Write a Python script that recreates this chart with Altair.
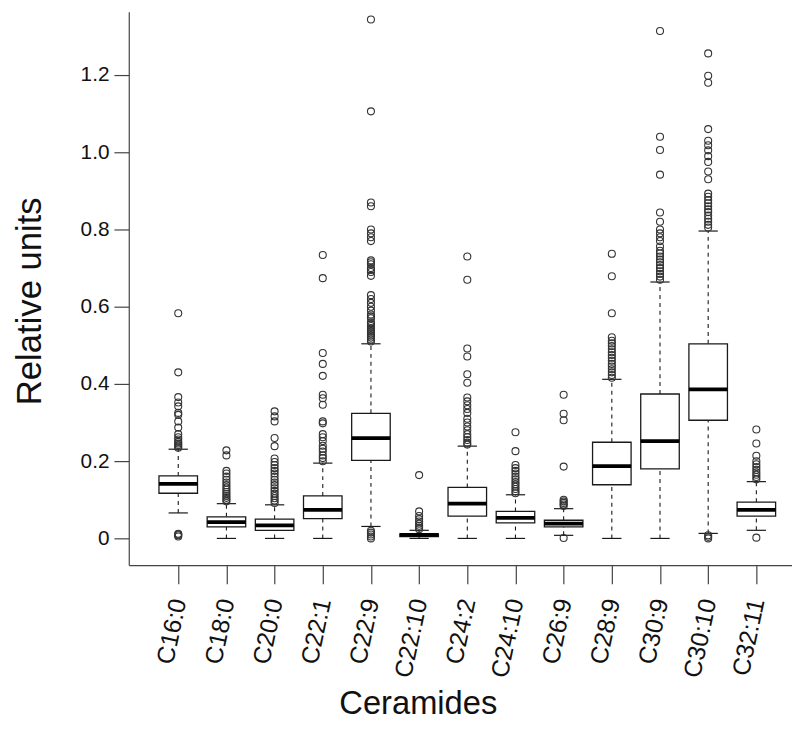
import json
import altair as alt
import pandas as pd

# ---- data ----
categories = ["C16:0", "C18:0", "C20:0", "C22:1", "C22:9", "C22:10", "C24:2",
              "C24:10", "C26:9", "C28:9", "C30:9", "C30:10", "C32:11"]
q1 = [0.117, 0.030, 0.021, 0.051, 0.202, 0.005, 0.058, 0.040, 0.030, 0.139, 0.180, 0.306, 0.058]
median = [0.141, 0.042, 0.034, 0.074, 0.260, 0.009, 0.090, 0.053, 0.038, 0.187, 0.252, 0.386, 0.074]
q3 = [0.162, 0.056, 0.050, 0.110, 0.324, 0.012, 0.132, 0.070, 0.047, 0.249, 0.374, 0.504, 0.094]
whisker_low = [0.066, 0.0, 0.0, 0.0, 0.031, 0.0, 0.0, 0.0, 0.008, 0.0, 0.0, 0.013, 0.021]
whisker_high = [0.231, 0.090, 0.087, 0.195, 0.504, 0.021, 0.239, 0.113, 0.077, 0.412, 0.664, 0.796, 0.147]

out_c16_0 = [0.583, 0.430, 0.366, 0.352, 0.342, 0.325, 0.320, 0.303, 0.287, 0.270,
             0.262, 0.256, 0.250, 0.246, 0.242, 0.238, 0.235, 0.005, 0.008, 0.010, 0.012]
out_c18_0 = [0.228, 0.215, 0.175, 0.168, 0.160, 0.152, 0.145, 0.138, 0.132, 0.126,
             0.120, 0.115, 0.110, 0.105, 0.100, 0.096]
out_c20_0 = [0.329, 0.316, 0.303, 0.260, 0.239, 0.207, 0.198, 0.190, 0.182, 0.175,
             0.168, 0.160, 0.152, 0.145, 0.138, 0.130, 0.123, 0.116, 0.110, 0.104, 0.098, 0.092]
out_c22_1 = [0.734, 0.674, 0.480, 0.452, 0.421, 0.372, 0.363, 0.346, 0.303, 0.298,
             0.270, 0.262, 0.252, 0.240, 0.232, 0.225, 0.215, 0.208, 0.200]
out_c22_9 = [1.344, 1.106, 0.870, 0.860, 0.800, 0.790, 0.780, 0.770, 0.720, 0.715,
             0.710, 0.700, 0.695, 0.690, 0.680, 0.630, 0.620, 0.610, 0.600, 0.590,
             0.580, 0.575, 0.570, 0.560, 0.555, 0.550, 0.545, 0.540, 0.535, 0.530,
             0.525, 0.520, 0.515, 0.510, 0.000, 0.005, 0.010, 0.015, 0.020]
out_c22_10 = [0.164, 0.070, 0.058, 0.050, 0.044, 0.038, 0.033, 0.028, 0.024]
out_c24_2 = [0.730, 0.670, 0.492, 0.471, 0.425, 0.403, 0.365, 0.355, 0.345, 0.335,
             0.325, 0.310, 0.300, 0.290, 0.280, 0.270, 0.262, 0.255, 0.248, 0.243]
out_c24_10 = [0.275, 0.226, 0.190, 0.182, 0.175, 0.168, 0.160, 0.153, 0.146, 0.140,
              0.134, 0.128, 0.122, 0.117]
out_c26_9 = [0.372, 0.323, 0.306, 0.186, 0.100, 0.096, 0.092, 0.088, 0.084, 0.001]
out_c28_9 = [0.737, 0.679, 0.583, 0.521, 0.512, 0.505, 0.498, 0.490, 0.482, 0.475,
             0.468, 0.460, 0.452, 0.445, 0.438, 0.430, 0.423, 0.416]
out_c30_9 = [1.314, 1.040, 1.006, 0.942, 0.844, 0.820, 0.800, 0.790, 0.780, 0.770,
             0.756, 0.745, 0.738, 0.730, 0.722, 0.715, 0.708, 0.700, 0.692, 0.685,
             0.678, 0.670]
out_c30_10 = [1.256, 1.198, 1.180, 1.060, 1.030, 1.018, 1.005, 0.990, 0.975, 0.950,
              0.930, 0.893, 0.885, 0.876, 0.868, 0.860, 0.852, 0.845, 0.836, 0.828,
              0.820, 0.812, 0.805, 0.000, 0.004, 0.008]
out_c32_11 = [0.282, 0.246, 0.214, 0.200, 0.192, 0.185, 0.178, 0.171, 0.165, 0.159,
              0.153, 0.002]

outliers = [out_c16_0, out_c18_0, out_c20_0, out_c22_1, out_c22_9, out_c22_10, out_c24_2,
            out_c24_10, out_c26_9, out_c28_9, out_c30_9, out_c30_10, out_c32_11]

y_ticks = [0, 0.2, 0.4, 0.6, 0.8, 1.0, 1.2]

# ---- tables ----
idx = list(range(1, len(categories) + 1))
box_df = pd.DataFrame({"cat": categories, "idx": idx, "q1": q1, "med": median,
                       "q3": q3, "lo": whisker_low, "hi": whisker_high})
out_df = pd.DataFrame([{"cat": c, "idx": i, "v": v}
                       for c, i, vals in zip(categories, idx, outliers) for v in vals])

INK = "#1a1a1a"
AXIS_INK = "#444444"
FONT = "Liberation Sans"

xscale = alt.Scale(domain=[-0.027, 13.74], nice=False, zero=False)
yscale = alt.Scale(domain=[-0.069, 1.364], nice=False, zero=False)

x_axis = alt.Axis(
    values=idx,
    labelExpr=f"{json.dumps(categories)}[datum.value - 1]",
    labelAngle=-78, labelAlign="right", labelBaseline="middle",
    labelFontSize=25, labelFont=FONT, labelColor="#111111", labelPadding=15,
    labelOverlap=False, labelFlush=False,
    tickSize=19, tickColor=AXIS_INK, tickWidth=1.2,
    domainColor=AXIS_INK, domainWidth=1.2, grid=False,
    title="Ceramides", titleFont=FONT, titleFontSize=33, titleFontWeight="normal",
    titleColor="#111111", titleX=292, titleY=140, titleAlign="center",
    titleBaseline="middle",
)
y_axis = alt.Axis(
    values=y_ticks,
    labelExpr="datum.value == 0 ? '0' : format(datum.value, '.1f')",
    labelFontSize=21, labelFont=FONT, labelColor="#111111", labelPadding=5,
    tickSize=15, tickColor=AXIS_INK, tickWidth=1.2,
    domainColor=AXIS_INK, domainWidth=1.2, grid=False,
    title="Relative units", titleFont=FONT, titleFontSize=35, titleFontWeight="normal",
    titleColor="#111111", titleX=-100, titleY=292, titleAngle=-90,
    titleAlign="center", titleBaseline="middle",
)

base = alt.Chart(box_df).transform_calculate(
    xl="datum.idx - 0.4", xr="datum.idx + 0.4",
    cl="datum.idx - 0.2", cr="datum.idx + 0.2",
)

def X(field):
    return alt.X(field, type="quantitative", scale=xscale, axis=x_axis)

def Y(field):
    return alt.Y(field, type="quantitative", scale=yscale, axis=y_axis)

whisk_up = base.mark_rule(color=INK, strokeWidth=1.1, strokeDash=[4, 4]).encode(
    x=X("idx"), y=Y("q3"), y2="hi")
whisk_dn = base.mark_rule(color=INK, strokeWidth=1.1, strokeDash=[4, 4]).encode(
    x=X("idx"), y=Y("lo"), y2="q1")
cap_up = base.mark_rule(color=INK, strokeWidth=1.2).encode(x=X("cl"), x2="cr", y=Y("hi"))
cap_dn = base.mark_rule(color=INK, strokeWidth=1.2).encode(x=X("cl"), x2="cr", y=Y("lo"))
boxes = base.mark_rect(fill="white", stroke=INK, strokeWidth=1.3).encode(
    x=X("xl"), x2="xr", y=Y("q1"), y2="q3")
medians = base.mark_rule(color="#000000", strokeWidth=3.8).encode(
    x=X("xl"), x2="xr", y=Y("med"))
points = alt.Chart(out_df).mark_point(
    shape="circle", filled=False, size=50, stroke="#333333", strokeWidth=1.1, opacity=1
).encode(x=X("idx"), y=Y("v"))

chart = alt.layer(whisk_up, whisk_dn, cap_up, cap_dn, boxes, medians, points).properties(
    width=670, height=559,
    autosize=alt.AutoSizeParams(type="none"),
    padding={"left": 122, "top": 0, "right": 0, "bottom": 175},
    background="white",
).configure_view(stroke=None)

chart.save("out.html", embed_options={"renderer": "svg", "actions": False})
